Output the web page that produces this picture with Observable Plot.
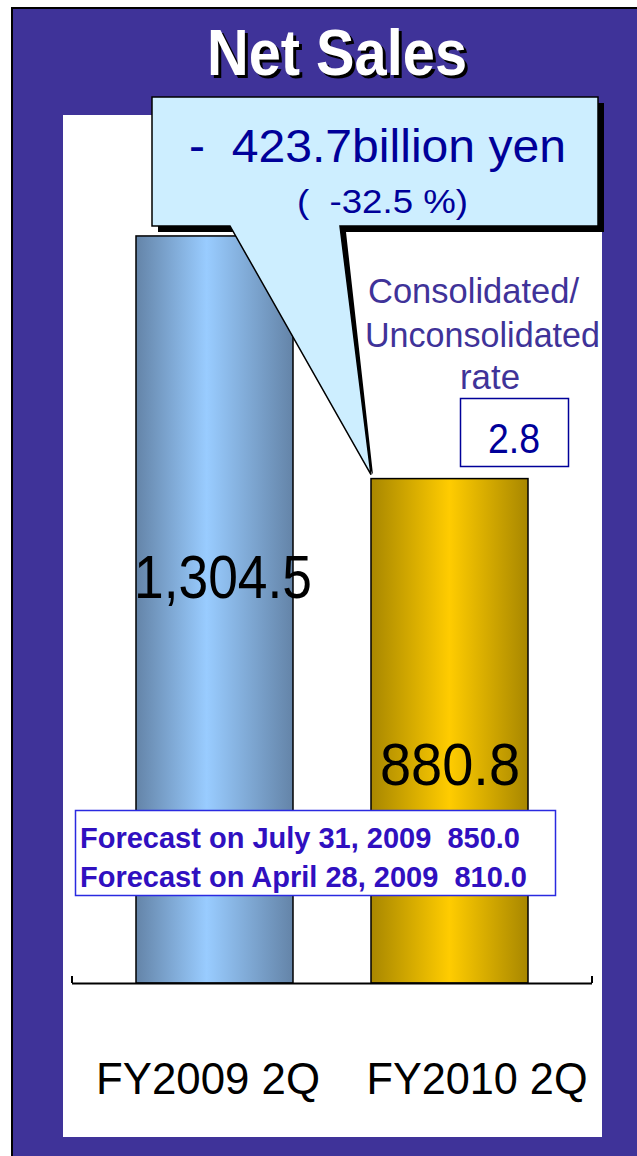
<!DOCTYPE html>
<html><head><meta charset="utf-8">
<script src="https://cdn.jsdelivr.net/npm/d3@7"></script>
<script src="https://cdn.jsdelivr.net/npm/@observablehq/plot@0.6"></script>
<style>html,body{margin:0;padding:0;background:#fff;} #chart{width:637px;height:1156px;position:relative;overflow:hidden}</style>
</head><body><div id="chart"></div>
<script>
// ---- data ----
const title = "Net Sales";
const categories = ["FY2009 2Q", "FY2010 2Q"];
const netSales = [1304.5, 880.8];
const valueLabels = ["1,304.5", "880.8"];
const changeAmount = "-  423.7billion yen";
const changePercent = "(  -32.5 %)";
const ratioLabel = ["Consolidated/", "Unconsolidated", "rate"];
const ratioValue = "2.8";
const forecastLines = ["Forecast on July 31, 2009  850.0", "Forecast on April 28, 2009  810.0"];

// ---- styles ----
const FONT = "'Liberation Sans', Arial, Helvetica, sans-serif";
const PURPLE = "#3f3399";
const NAVY = "#000099";
const W = 637, H = 1156;

const data = categories.map((c, i) => ({cat: c, value: netSales[i], label: valueLabels[i]}));

const chart = Plot.plot({
  width: W, height: H,
  marginLeft: 72, marginRight: 45, marginTop: 124, marginBottom: 173,
  x: {domain: categories, paddingInner: 0.332, paddingOuter: 0.272, axis: null},
  y: {domain: [0, 1500], axis: null},
  style: {background: "transparent", fontFamily: FONT, overflow: "visible"},
  marks: [
    Plot.barY(data.filter((d, i) => i === 0), {x: "cat", y: "value", fill: "url(#gBlue)", stroke: "black", strokeWidth: 1.5}),
    Plot.barY(data.filter((d, i) => i === 1), {x: "cat", y: "value", fill: "url(#gGold)", stroke: "black", strokeWidth: 1.5}),
    Plot.ruleY([0], {stroke: "black", strokeWidth: 2}),
    Plot.text(data.filter((d, i) => i === 0), {x: "cat", y: d => d.value / 2, text: "label", fontSize: 62, fill: "black", dx: 8, dy: -32}),
    Plot.text(data.filter((d, i) => i === 1), {x: "cat", y: d => d.value / 2, text: "label", fontSize: 60, fill: "black", dy: 34}),
    Plot.text(data.filter((d, i) => i === 0), {x: "cat", y: 0, text: "cat", fontSize: 44, fill: "black", dx: -7, dy: 96}),
    Plot.text(data.filter((d, i) => i === 1), {x: "cat", y: 0, text: "cat", fontSize: 44, fill: "black", dx: 27, dy: 96})
  ]
});
document.getElementById("chart").appendChild(chart);

const svg = d3.select(chart);
const xs = chart.scale("x"), ys = chart.scale("y");

// gradients
const defs = svg.insert("defs", ":first-child");
function grad(id, stops) {
  const g = defs.append("linearGradient").attr("id", id).attr("x1", 0).attr("x2", 1).attr("y1", 0).attr("y2", 0);
  stops.forEach(([o, c]) => g.append("stop").attr("offset", o).attr("stop-color", c));
}
grad("gBlue", [[0, "#6484a8"], [0.45, "#99ccff"], [1, "#6484a8"]]);
grad("gGold", [[0, "#a88700"], [0.5, "#ffcc00"], [1, "#a88700"]]);

// background layers
const bg = svg.insert("g", "defs + *");
bg.append("rect").attr("x", 0).attr("y", 0).attr("width", W).attr("height", H).attr("fill", "#fff");
bg.append("rect").attr("x", 11).attr("y", 7).attr("width", W - 11).attr("height", H - 7).attr("fill", "#000");
bg.append("rect").attr("x", 13).attr("y", 9).attr("width", W - 13).attr("height", H - 9).attr("fill", PURPLE);
bg.append("rect").attr("x", 63).attr("y", 115).attr("width", 539).attr("height", 1022).attr("fill", "#fff");

// compress plot texts to match reference widths
const widths = {"1,304.5": 178, "880.8": 140, "FY2009 2Q": 224, "FY2010 2Q": 221};
svg.selectAll("text").each(function() {
  const w = widths[this.textContent];
  if (w) d3.select(this).attr("textLength", w).attr("lengthAdjust", "spacingAndGlyphs");
});

const ann = svg.append("g").attr("text-anchor", "start");
function txt(s, x, y, size, fill, len, weight) {
  const t = ann.append("text").attr("x", x).attr("y", y).attr("font-size", size)
    .attr("text-anchor", "start")
    .attr("font-family", FONT).attr("fill", fill).text(s);
  if (len) t.attr("textLength", len).attr("lengthAdjust", "spacingAndGlyphs");
  if (weight) t.attr("font-weight", weight);
  return t;
}

// axis end ticks
const x0 = 72, x1 = W - 45, y0 = ys.apply(0);
ann.append("path").attr("d", `M${x0},${y0 - 7}V${y0}M${x1},${y0 - 7}V${y0}`).attr("stroke", "black").attr("stroke-width", 2).attr("fill", "none");

// callout
const tipX = xs.apply(categories[1]), tipY = ys.apply(netSales[1]) - 4;
const bx0 = 152, by0 = 97, bx1 = 598, by1 = 226, px0 = 230, px1 = 340, off = 6;
const shadowPts = [[bx0 + off, by0 + off], [bx1 + off, by0 + off], [bx1 + off, by1 + off], [px1 + off, by1 + off], [tipX + 2, tipY], [px0 + off, by1 + off], [bx0 + off, by1 + off]];
const pts = [[bx0, by0], [bx1, by0], [bx1, by1], [px1, by1], [tipX, tipY], [px0, by1], [bx0, by1]];
ann.append("polygon").attr("points", shadowPts.map(p => p.join(",")).join(" ")).attr("fill", "#000");
ann.append("polygon").attr("points", pts.map(p => p.join(",")).join(" ")).attr("fill", "#cdeeff").attr("stroke", "#000").attr("stroke-width", 1.5);
txt(changeAmount, 189, 162, 47, NAVY, 377);
txt(changePercent, 297, 213, 34, NAVY, 171);

// title
txt(title, 210, 78, 64, "#000", 260, "bold");
txt(title, 207, 75, 64, "#fff", 260, "bold");

// consolidated ratio
txt(ratioLabel[0], 368, 303, 35, PURPLE, 211);
txt(ratioLabel[1], 365, 347, 35, PURPLE, 235);
txt(ratioLabel[2], 460, 389, 35, PURPLE, 60);
ann.append("rect").attr("x", 460.5).attr("y", 398.5).attr("width", 108).attr("height", 68).attr("fill", "#fff").attr("stroke", NAVY).attr("stroke-width", 1.5);
txt(ratioValue, 488, 453, 42, NAVY, 52);

// forecast box
ann.append("rect").attr("x", 75.5).attr("y", 810.5).attr("width", 480).attr("height", 85).attr("fill", "#fff").attr("stroke", "#2a2ae0").attr("stroke-width", 1.5);
txt(forecastLines[0], 80, 848, 30, "#3010c0", 440, "bold");
txt(forecastLines[1], 80, 887, 30, "#3010c0", 447, "bold");
</script>
</body></html>
